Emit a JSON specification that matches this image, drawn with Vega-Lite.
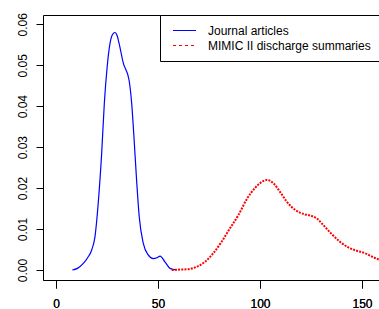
{
  "$schema": "https://vega.github.io/schema/vega-lite/v6.json",
  "width": 336,
  "height": 265,
  "autosize": "none",
  "padding": {"left": 43, "top": 15, "right": 0, "bottom": 29},
  "background": "white",
  "config": {
    "view": {"stroke": null},
    "font": "Liberation Sans",
    "axis": {
      "grid": false,
      "title": null,
      "domainColor": "black",
      "domainWidth": 1,
      "tickColor": "black",
      "tickWidth": 1,
      "labelColor": "black",
      "labelFontSize": 12,
      "labelFont": "Liberation Sans"
    },
    "legend": {
      "labelFont": "Liberation Sans",
      "labelFontSize": 12,
      "labelColor": "black"
    }
  },
  "data": {
    "values": [
      {"series": "Journal articles", "x": 8, "y": 0},
      {"series": "Journal articles", "x": 10.5, "y": 0.0004},
      {"series": "Journal articles", "x": 13.4, "y": 0.0016},
      {"series": "Journal articles", "x": 15.5, "y": 0.003},
      {"series": "Journal articles", "x": 17.5, "y": 0.0049},
      {"series": "Journal articles", "x": 19.1, "y": 0.0081},
      {"series": "Journal articles", "x": 20.7, "y": 0.0163},
      {"series": "Journal articles", "x": 22.4, "y": 0.0286},
      {"series": "Journal articles", "x": 23.7, "y": 0.0408},
      {"series": "Journal articles", "x": 25.1, "y": 0.0497},
      {"series": "Journal articles", "x": 26.5, "y": 0.0554},
      {"series": "Journal articles", "x": 27.7, "y": 0.0575},
      {"series": "Journal articles", "x": 28.9, "y": 0.058},
      {"series": "Journal articles", "x": 30, "y": 0.0572},
      {"series": "Journal articles", "x": 30.9, "y": 0.0554},
      {"series": "Journal articles", "x": 33, "y": 0.0505},
      {"series": "Journal articles", "x": 35.8, "y": 0.0464},
      {"series": "Journal articles", "x": 37.1, "y": 0.0407},
      {"series": "Journal articles", "x": 38.2, "y": 0.0326},
      {"series": "Journal articles", "x": 39.5, "y": 0.022},
      {"series": "Journal articles", "x": 40.8, "y": 0.013},
      {"series": "Journal articles", "x": 42.8, "y": 0.0065},
      {"series": "Journal articles", "x": 45.2, "y": 0.0037},
      {"series": "Journal articles", "x": 47.7, "y": 0.0028},
      {"series": "Journal articles", "x": 49.5, "y": 0.003},
      {"series": "Journal articles", "x": 51, "y": 0.0034},
      {"series": "Journal articles", "x": 53.4, "y": 0.002},
      {"series": "Journal articles", "x": 55.9, "y": 0.0004},
      {"series": "Journal articles", "x": 59.2, "y": 0},
      {"series": "MIMIC II discharge summaries", "x": 56.7, "y": 0},
      {"series": "MIMIC II discharge summaries", "x": 60.8, "y": 0.0001},
      {"series": "MIMIC II discharge summaries", "x": 64.9, "y": 0.0002},
      {"series": "MIMIC II discharge summaries", "x": 69, "y": 0.0008},
      {"series": "MIMIC II discharge summaries", "x": 73, "y": 0.002},
      {"series": "MIMIC II discharge summaries", "x": 77.1, "y": 0.0041},
      {"series": "MIMIC II discharge summaries", "x": 81.2, "y": 0.0069},
      {"series": "MIMIC II discharge summaries", "x": 85.3, "y": 0.0102},
      {"series": "MIMIC II discharge summaries", "x": 89.4, "y": 0.0134},
      {"series": "MIMIC II discharge summaries", "x": 93.5, "y": 0.0173},
      {"series": "MIMIC II discharge summaries", "x": 97.5, "y": 0.02},
      {"series": "MIMIC II discharge summaries", "x": 100, "y": 0.0212},
      {"series": "MIMIC II discharge summaries", "x": 103.3, "y": 0.022},
      {"series": "MIMIC II discharge summaries", "x": 106.5, "y": 0.0212},
      {"series": "MIMIC II discharge summaries", "x": 109.8, "y": 0.0191},
      {"series": "MIMIC II discharge summaries", "x": 113.1, "y": 0.0167},
      {"series": "MIMIC II discharge summaries", "x": 117.2, "y": 0.0147},
      {"series": "MIMIC II discharge summaries", "x": 121.2, "y": 0.0137},
      {"series": "MIMIC II discharge summaries", "x": 125.3, "y": 0.0132},
      {"series": "MIMIC II discharge summaries", "x": 127.8, "y": 0.0126},
      {"series": "MIMIC II discharge summaries", "x": 131, "y": 0.011},
      {"series": "MIMIC II discharge summaries", "x": 135.1, "y": 0.0088},
      {"series": "MIMIC II discharge summaries", "x": 139.2, "y": 0.0069},
      {"series": "MIMIC II discharge summaries", "x": 143.3, "y": 0.0055},
      {"series": "MIMIC II discharge summaries", "x": 147.4, "y": 0.0047},
      {"series": "MIMIC II discharge summaries", "x": 151.5, "y": 0.0041},
      {"series": "MIMIC II discharge summaries", "x": 154.8, "y": 0.0033},
      {"series": "MIMIC II discharge summaries", "x": 158, "y": 0.0026},
      {"series": "MIMIC II discharge summaries", "x": 162, "y": 0.002},
      {"series": "MIMIC II discharge summaries", "x": 170, "y": 0.001}
    ]
  },
  "encoding": {
    "x": {
      "field": "x",
      "type": "quantitative",
      "scale": {"domain": [-6.37, 158.33], "nice": false, "zero": false},
      "axis": {
        "orient": "bottom",
        "values": [0, 50, 100, 150],
        "tickSize": 8,
        "labelPadding": 10,
        "labelBaseline": "top",
        "labelFlush": false,
        "labelOverlap": false
      }
    },
    "y": {
      "field": "y",
      "type": "quantitative",
      "scale": {"domain": [-0.00244, 0.06227], "nice": false, "zero": false},
      "axis": {
        "values": [0, 0.01, 0.02, 0.03, 0.04, 0.05, 0.06],
        "format": ".2f",
        "tickSize": 7,
        "labelAngle": 270,
        "labelAlign": "center",
        "labelBaseline": "alphabetic",
        "labelPadding": 10,
        "labelFlush": false,
        "labelOverlap": false
      }
    },
    "color": {
      "field": "series",
      "type": "nominal",
      "scale": {
        "domain": ["Journal articles", "MIMIC II discharge summaries"],
        "range": ["#0000ff", "#ff0000"]
      },
      "legend": {
        "title": null,
        "orient": "none",
        "legendX": 117,
        "legendY": 0,
        "direction": "vertical",
        "strokeColor": "black",
        "fillColor": "white",
        "padding": 9,
        "symbolType": "M-2,0H2",
        "symbolSize": 132,
        "symbolStrokeWidth": 1,
        "symbolOffset": 9,
        "labelOffset": 17,
        "labelLimit": 400,
        "rowPadding": 2,
        "encode": {
          "symbols": {
            "update": {
              "strokeDash": {"signal": "datum.value === 'MIMIC II discharge summaries' ? [3, 3] : [1, 0]"},
              "stroke": {"scale": "color", "field": "value"},
              "strokeWidth": {"value": 1}
            }
          }
        }
      }
    }
  },
  "layer": [
    {
      "transform": [{"filter": "datum.series === 'Journal articles'"}],
      "mark": {"type": "line", "interpolate": "monotone", "clip": true, "strokeWidth": 1.2}
    },
    {
      "transform": [{"filter": "datum.series === 'MIMIC II discharge summaries'"}],
      "mark": {"type": "line", "interpolate": "monotone", "clip": true, "strokeWidth": 2, "strokeDash": [2, 1.2], "strokeCap": "butt"}
    },
    {
      "mark": {"type": "rule", "opacity": 0},
      "encoding": {
        "x": {
          "datum": 0,
          "type": "quantitative",
          "axis": {"orient": "top", "ticks": false, "labels": false, "domain": true}
        },
        "y": null,
        "color": null
      }
    }
  ],
  "resolve": {"axis": {"x": "independent"}}
}
